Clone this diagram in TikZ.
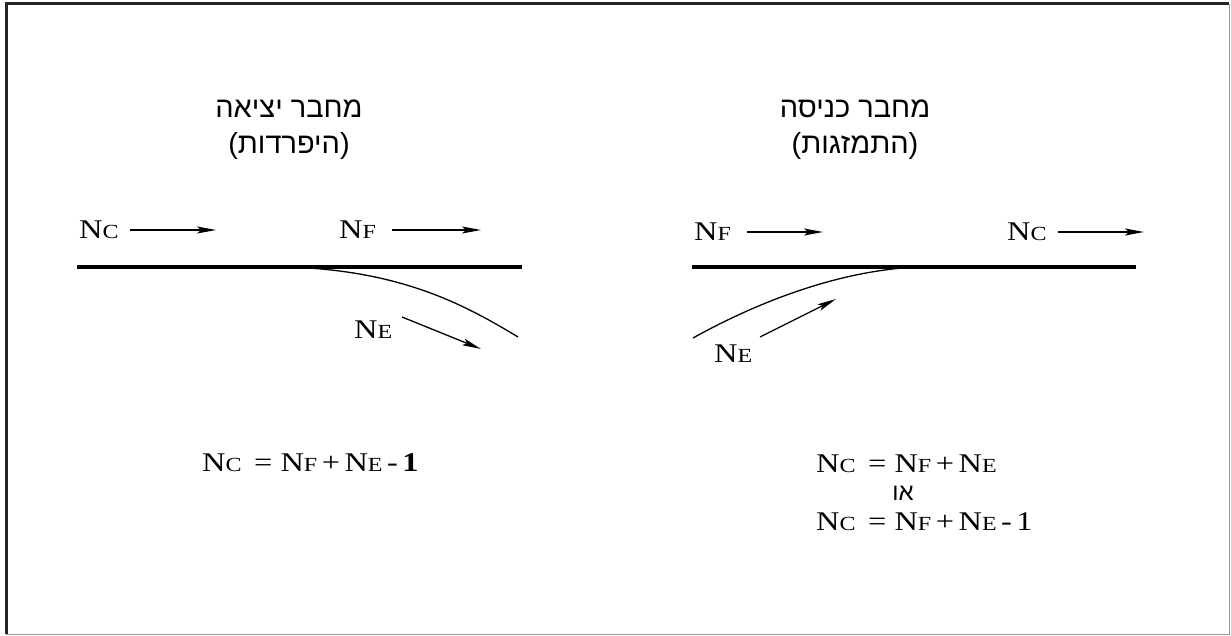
\documentclass[tikz,border=0pt]{standalone}
\usepackage{fontspec}
\setmainfont{Liberation Serif}[FakeStretch=1.2]
\newfontfamily\heb[Script=Hebrew]{Liberation Sans}
\TeXXeTstate=1
\usetikzlibrary{arrows.meta}
\newcommand{\Nsub}[1]{N{\fontsize{20}{20}\selectfont #1}}
\tikzset{
  lbl/.style={inner sep=0pt, anchor=base west, font=\fontsize{27}{30}\selectfont},
  htxt/.style={inner sep=0pt, font=\heb\fontsize{29}{31}\selectfont},
  flow/.style={line width=1.3pt, -{Stealth[length=19pt,width=7pt,inset=4pt]}},
  track/.style={line width=3.8pt},
  branch/.style={line width=1.3pt}
}
\begin{document}
\begin{tikzpicture}[x=1pt,y=-1pt]
\useasboundingbox (0,0) rectangle (1231,636);
% frame
\draw[line width=3pt,black!85] (6,634) -- (6,4) -- (1229,4);
\draw[line width=1pt,black!40] (6,634) -- (1229,634) -- (1229,4);

% ---- left: exit connector ----
\node[htxt] (tl1) at (289,109) {\beginR מחבר יציאה\endR};
\node[htxt] (tl2) at (289,146) {\beginR (היפרדות)\endR};

\coordinate (la) at (77,267);
\coordinate (lb) at (522,267);
\coordinate (lj) at (290,267);
\coordinate (le) at (518,337);
\draw[track] (la) -- (lb);
\draw[branch] (lj) .. controls (400,271) and (462,303) .. (le);

\node[lbl] (lnc) at (79,239) {\Nsub{C}};
\coordinate (lnc1) at (130,230); \coordinate (lnc2) at (216,230);
\draw[flow] (lnc1) -- (lnc2);
\node[lbl] (lnf) at (339,239) {\Nsub{F}};
\coordinate (lnf1) at (392,230); \coordinate (lnf2) at (481,230);
\draw[flow] (lnf1) -- (lnf2);
\node[lbl] (lne) at (354,338) {\Nsub{E}};
\coordinate (lne1) at (402,317); \coordinate (lne2) at (481,349);
\draw[flow] (lne1) -- (lne2);

\node[lbl] (lf) at (202,471) {\Nsub{C}\,\ = \Nsub{F}\,+\,\Nsub{E}\,-\,\textbf{1}};

% ---- right: entry connector ----
\node[htxt] (tr1) at (855,109) {\beginR מחבר כניסה\endR};
\node[htxt] (tr2) at (855,146) {\beginR (התמזגות)\endR};

\coordinate (ra) at (692,267);
\coordinate (rb) at (1136,267);
\coordinate (rj) at (918,267);
\coordinate (rs) at (693,338);
\draw[track] (ra) -- (rb);
\draw[branch] (rs) .. controls (765,298) and (845,270) .. (rj);

\node[lbl] (rnf) at (694,241) {\Nsub{F}};
\coordinate (rnf1) at (747,232); \coordinate (rnf2) at (823,232);
\draw[flow] (rnf1) -- (rnf2);
\node[lbl] (rnc) at (1007,241) {\Nsub{C}};
\coordinate (rnc1) at (1058,232); \coordinate (rnc2) at (1144,232);
\draw[flow] (rnc1) -- (rnc2);
\node[lbl] (rne) at (714,362) {\Nsub{E}};
\coordinate (rne1) at (760,337); \coordinate (rne2) at (836,299);
\draw[flow] (rne1) -- (rne2);

\node[lbl] (rf1) at (816,472) {\Nsub{C}\,\ = \Nsub{F}\,+\,\Nsub{E}};
\node[htxt, font=\heb\fontsize{24}{26}\selectfont] (ror) at (903,493) {\beginR או\endR};
\node[lbl] (rf2) at (816,530) {\Nsub{C}\,\ = \Nsub{F}\,+\,\Nsub{E}\,-\,1};
\end{tikzpicture}
\end{document}
